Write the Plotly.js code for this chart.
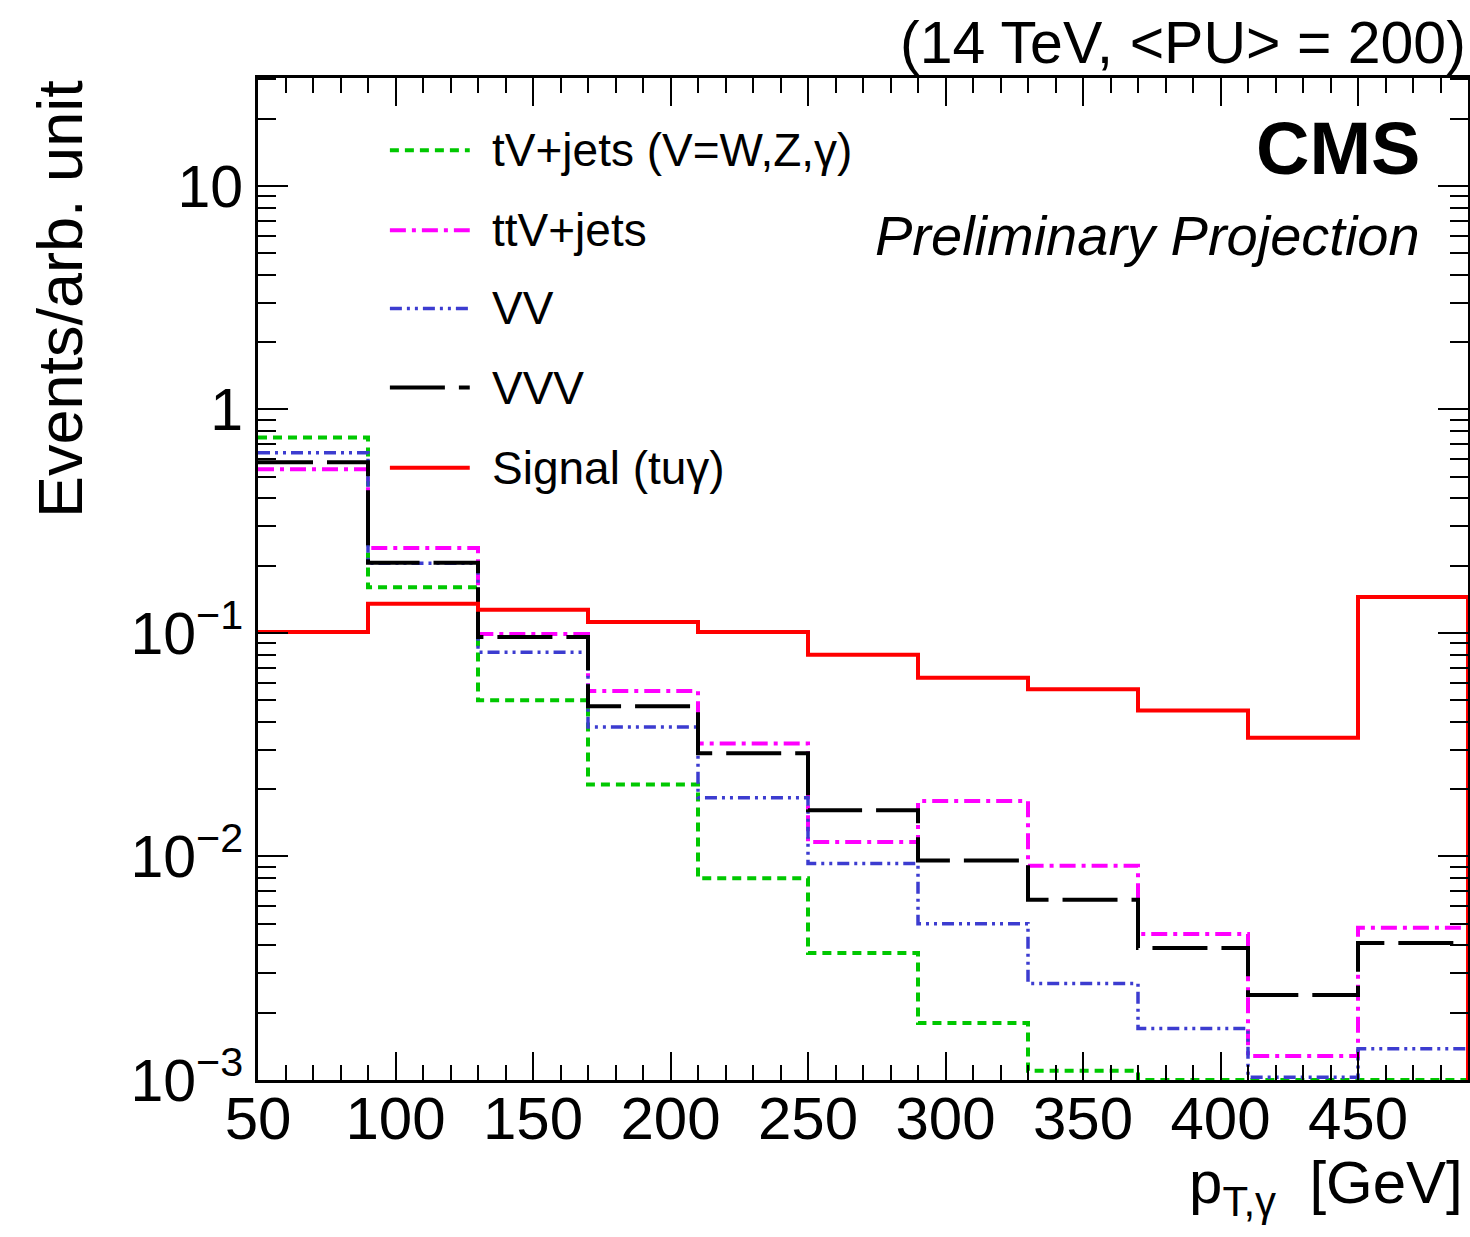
<!DOCTYPE html>
<html>
<head>
<meta charset="utf-8">
<script src="https://cdn.plot.ly/plotly-3.0.1.min.js"></script>
<style>
  html, body { margin: 0; padding: 0; background: #ffffff; }
  #chart { width: 1470px; height: 1237px; }
</style>
</head>
<body>
<div id="chart"></div>
<script>
// Photon pT bin edges [GeV] (11 bins of 40 GeV)
const binEdges = [50, 90, 130, 170, 210, 250, 290, 330, 370, 410, 450, 490];

// Normalised event yields per bin
const tVjets  = [0.75, 0.16, 0.050, 0.021, 0.0080, 0.0037, 0.0018, 0.0011, 0.001, 0.001, 0.001];
const ttVjets = [0.54, 0.24, 0.099, 0.055, 0.032, 0.0116, 0.0177, 0.0091, 0.0045, 0.00128, 0.0048];
const vv      = [0.64, 0.205, 0.082, 0.038, 0.0183, 0.0093, 0.0050, 0.0027, 0.0017, 0.00103, 0.00138];
const vvv     = [0.58, 0.206, 0.096, 0.047, 0.029, 0.0161, 0.0096, 0.0064, 0.0039, 0.0024, 0.0041];
const signal  = [0.101, 0.135, 0.127, 0.112, 0.101, 0.080, 0.063, 0.056, 0.045, 0.034, 0.145];

const seriesNames = ['tV+jets (V=W,Z,\u03b3)', 'ttV+jets', 'VV', 'VVV', 'Signal (tu\u03b3)'];

// Y axis: log10 range and decade labels
const yLogRange = [-3, 1.483];
const yTickVals = [0.001, 0.01, 0.1, 1, 10];
const yTickText = ['10<sup>\u22123</sup>', '10<sup>\u22122</sup>', '10<sup>\u22121</sup>', '1', '10'];
const yFloor = Math.pow(10, yLogRange[0]);

const FONT = 'Liberation Sans, Arial, Helvetica, sans-serif';

const styles = [
  { color: '#00c800', dash: '9px,6px', width: 4 },
  { color: '#ff00ff', dash: '16px,6px,4px,6px', width: 4 },
  { color: '#3c3cd0', dash: '12px,5px,3px,5px,3px,5px', width: 3.5 },
  { color: '#000000', dash: '55px,14px', width: 4 },
  { color: '#ff0000', dash: 'solid', width: 4 }
];

// Histogram outline: steps across the bins, then closing down to the axis floor
function histTrace(vals, name, st) {
  const x = binEdges.slice();
  const y = vals.concat([vals[vals.length - 1]]);
  x.push(binEdges[binEdges.length - 1]);
  y.push(yFloor);
  return {
    x: x, y: y, name: name, type: 'scatter', mode: 'lines',
    line: { shape: 'hv', color: st.color, dash: st.dash, width: st.width },
    showlegend: false, hoverinfo: 'skip'
  };
}

const allSeries = [tVjets, ttVjets, vv, vvv, signal];
const traces = allSeries.map((v, i) => histTrace(v, seriesNames[i], styles[i]));

// Legend box (line samples + labels) in paper coordinates
const legX0 = 0.109, legX1 = 0.175, legTextX = 0.1917;
const legRows = [0.928, 0.848, 0.770, 0.691, 0.611];

const shapes = [];
const annotations = [];
seriesNames.forEach((nm, i) => {
  shapes.push({
    type: 'line', xref: 'paper', yref: 'paper',
    x0: legX0, x1: legX1, y0: legRows[i], y1: legRows[i],
    line: { color: styles[i].color, dash: styles[i].dash, width: styles[i].width }
  });
  annotations.push({
    xref: 'paper', yref: 'paper', x: legTextX, y: legRows[i],
    xanchor: 'left', yanchor: 'middle', showarrow: false,
    text: nm, font: { family: FONT, size: 46, color: '#000' }
  });
});

annotations.push(
  {
    xref: 'paper', yref: 'paper', x: 1, y: 1, xanchor: 'right', yanchor: 'bottom',
    showarrow: false, text: '(14 TeV, &lt;PU&gt; = 200)',
    font: { family: FONT, size: 59, color: '#000' }
  },
  {
    xref: 'paper', yref: 'paper', x: 0.962, y: 0.930, xanchor: 'right', yanchor: 'middle',
    showarrow: false, text: '<b>CMS</b>',
    font: { family: FONT, size: 74, color: '#000' }
  },
  {
    xref: 'paper', yref: 'paper', x: 0.962, y: 0.843, xanchor: 'right', yanchor: 'middle',
    showarrow: false, text: '<i>Preliminary Projection</i>',
    font: { family: FONT, size: 56, color: '#000' }
  },
  {
    xref: 'paper', yref: 'paper', x: -0.1636, y: 1, xanchor: 'center', yanchor: 'top',
    textangle: -90, showarrow: false, text: 'Events/arb. unit',
    font: { family: FONT, size: 63, color: '#000' }
  },
  {
    xref: 'paper', yref: 'paper', x: 0.9975, y: -0.107, xanchor: 'right', yanchor: 'middle',
    showarrow: false, text: 'p<sub>T,\u03b3</sub>\u00a0\u00a0[GeV]',
    font: { family: FONT, size: 60, color: '#000' }
  }
);

const layout = {
  width: 1470, height: 1237,
  margin: { l: 258, r: 2, t: 78, b: 157, pad: 0 },
  paper_bgcolor: '#ffffff', plot_bgcolor: '#ffffff',
  showlegend: false,
  font: { family: FONT, color: '#000' },
  xaxis: {
    range: [binEdges[0], binEdges[binEdges.length - 1]],
    tick0: 50, dtick: 50,
    ticks: 'inside', ticklen: 28, tickwidth: 2, tickcolor: '#000',
    minor: { dtick: 10, ticks: 'inside', ticklen: 15, tickwidth: 2, tickcolor: '#000' },
    showline: true, linecolor: '#000', linewidth: 3, mirror: 'allticks',
    showgrid: false, zeroline: false,
    ticklabelstandoff: -16,
    tickfont: { family: FONT, size: 60, color: '#000' }
  },
  yaxis: {
    type: 'log', range: yLogRange,
    tickmode: 'array', tickvals: yTickVals, ticktext: yTickText,
    ticks: 'inside', ticklen: 30, tickwidth: 2, tickcolor: '#000',
    minor: { dtick: 'D1', ticks: 'inside', ticklen: 18, tickwidth: 2, tickcolor: '#000' },
    showline: true, linecolor: '#000', linewidth: 3, mirror: 'allticks',
    showgrid: false, zeroline: false,
    tickfont: { family: FONT, size: 59, color: '#000' }
  },
  shapes: shapes,
  annotations: annotations
};

Plotly.newPlot('chart', traces, layout, { staticPlot: true, displayModeBar: false });
</script>
</body>
</html>
